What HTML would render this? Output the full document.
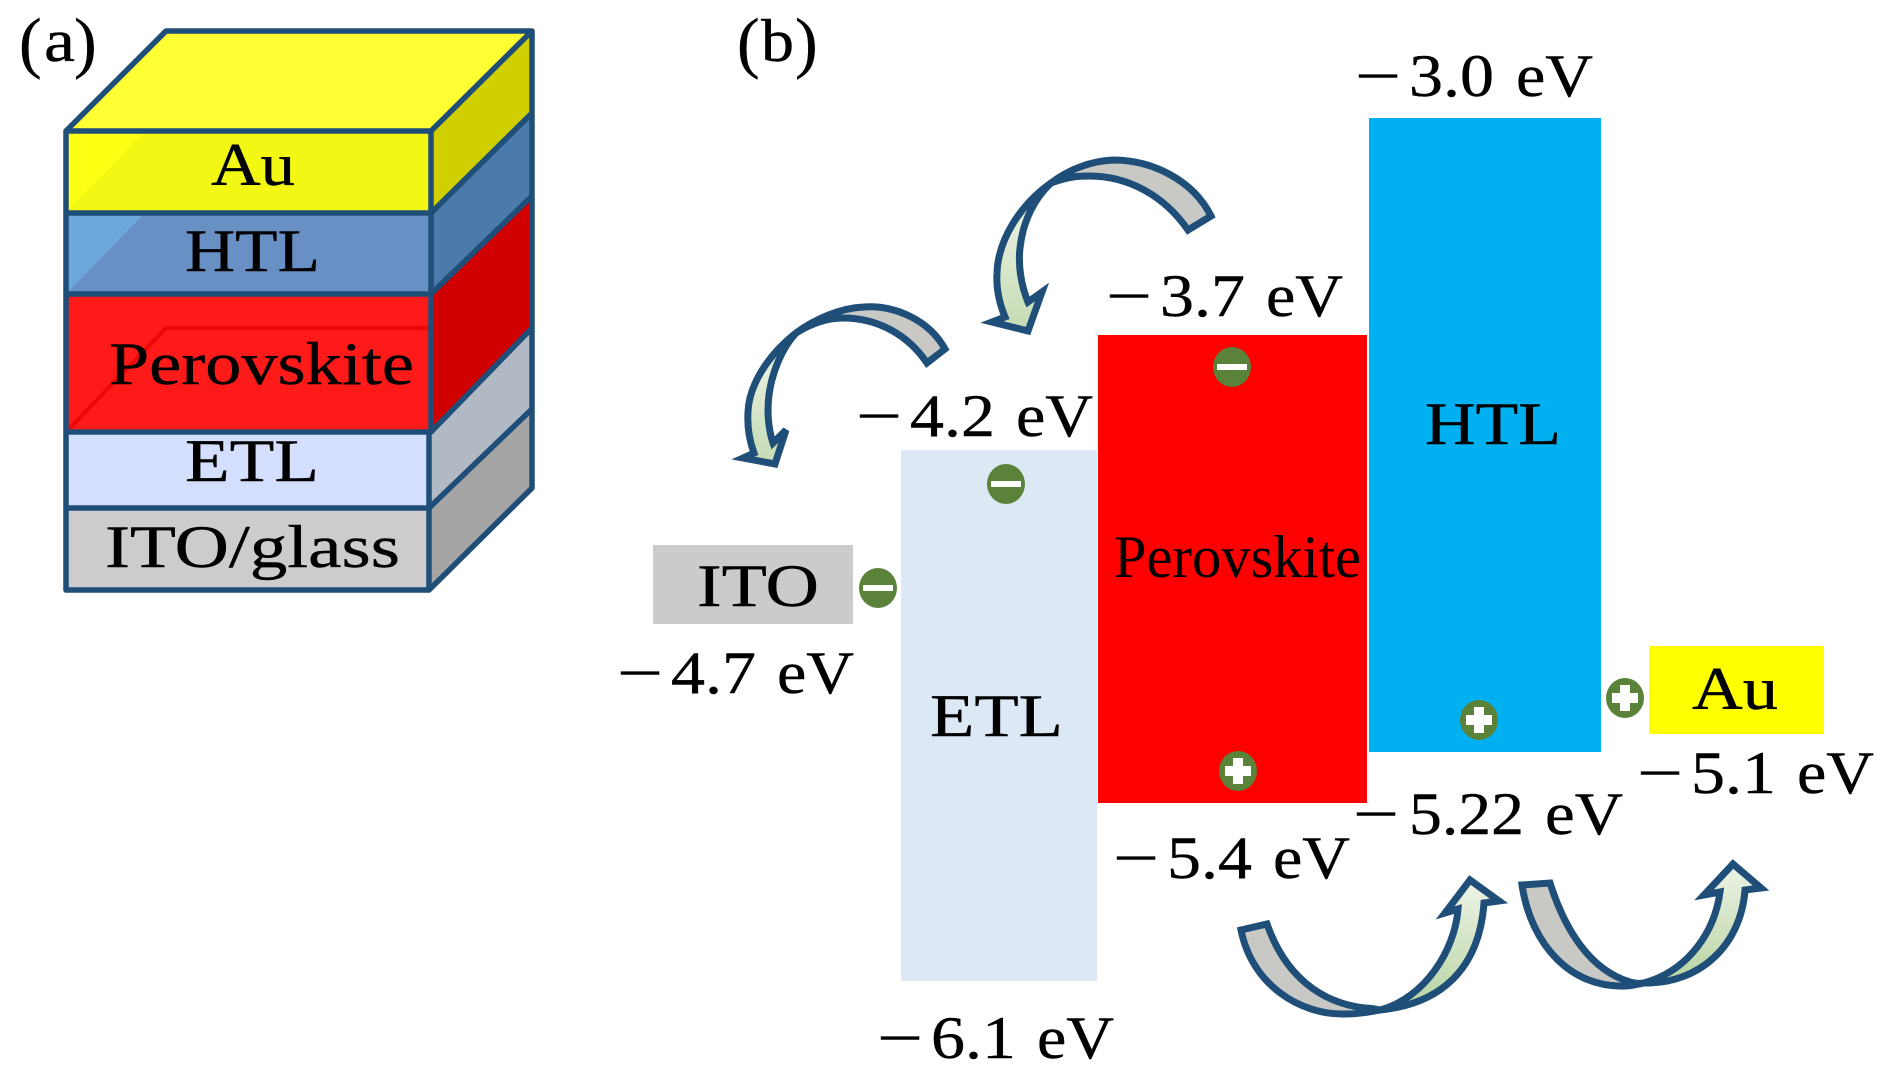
<!DOCTYPE html>
<html><head><meta charset="utf-8"><style>
html,body{margin:0;padding:0;background:#fff;width:1890px;height:1087px;overflow:hidden}
svg{display:block}
text{font-family:"Liberation Serif",serif;font-size:60px;fill:#000;stroke:#000;stroke-width:.4px}
.p{stroke:none}
.b{font-size:68px}
.a{stroke:#1f4e79;stroke-width:7;stroke-linejoin:miter}
.s{stroke:#1f4e79;stroke-width:5.5;stroke-linejoin:round;fill:none}
</style></head><body>
<svg width="1890" height="1087" viewBox="0 0 1890 1087" xmlns="http://www.w3.org/2000/svg">
<defs>
<linearGradient id="gd" x1="0" y1="0" x2="0" y2="1"><stop offset="0" stop-color="#eef3e8"/><stop offset="1" stop-color="#b6d4a0"/></linearGradient>
<linearGradient id="gu" x1="0" y1="0" x2="0" y2="1"><stop offset="0" stop-color="#a9cc92"/><stop offset=".25" stop-color="#e6efdd"/><stop offset="1" stop-color="#c5dbb3"/></linearGradient>
</defs>

<!-- (a) stack -->
<polygon points="66,131 166,31 532,31 431,131" fill="#ffff33"/>
<polygon points="431,131 532,31 532,113 431,213" fill="#d0d000"/>
<polygon points="431,213 532,113 532,196 431,294" fill="#4a7bab"/>
<polygon points="431,294 532,196 532,328 431,432" fill="#d00000"/>
<polygon points="431,432 532,328 532,409 429,508" fill="#b1b9c4"/>
<polygon points="429,508 532,409 532,488 429,590" fill="#a6a5a6"/>
<rect x="66" y="131" width="365" height="82" fill="#f2f813"/>
<polygon points="68,133 143,133 68,210" fill="#ffff14"/>
<rect x="66" y="213" width="365" height="81" fill="#6890c4"/>
<polygon points="68,215 143,215 68,292" fill="#6ca6da"/>
<rect x="66" y="294" width="365" height="138" fill="#ff1a1a"/>
<path d="M68,430 L166,328 L430,328" fill="none" stroke="#ec0808" stroke-width="4"/>
<rect x="66" y="432" width="363" height="76" fill="#d3dffc"/>
<rect x="66" y="508" width="363" height="82" fill="#cdcccd"/>
<g class="s">
<path d="M66,590 L66,131 L166,31 L532,31 L532,488 L429,590 Z"/>
<path d="M66,131 H431 L532,31"/>
<path d="M66,213 H431 L532,113"/>
<path d="M66,294 H431 L532,196"/>
<path d="M66,432 H431 L532,328"/>
<path d="M66,508 H429 L532,409"/>
<path d="M431,131 V432 M429,432 V590"/>
</g>
<text class="b" x="19" y="65">(</text><text x="44" y="61" textLength="31" lengthAdjust="spacingAndGlyphs">a</text><text class="b" x="74" y="65">)</text>
<text x="211" y="185" textLength="84" lengthAdjust="spacingAndGlyphs">Au</text>
<text x="185" y="271" textLength="135" lengthAdjust="spacingAndGlyphs">HTL</text>
<text x="109" y="384" textLength="305" lengthAdjust="spacingAndGlyphs">Perovskite</text>
<text x="185" y="481" textLength="134" lengthAdjust="spacingAndGlyphs">ETL</text>
<text x="105" y="567" textLength="295" lengthAdjust="spacingAndGlyphs">ITO/glass</text>

<!-- (b) bands -->
<text class="b" x="737" y="65">(</text><text x="761" y="61" textLength="33" lengthAdjust="spacingAndGlyphs">b</text><text class="b" x="795" y="65">)</text>
<rect x="653" y="545" width="200" height="79" fill="#cccbcc"/>
<rect x="901" y="450" width="196" height="531" fill="#dde8f5"/>
<rect x="1098" y="335" width="269" height="468" fill="#ff0000"/>
<rect x="1369" y="118" width="232" height="634" fill="#00b0f0"/>
<rect x="1649" y="646" width="175" height="88" fill="#ffff00"/>

<text x="697" y="606" textLength="122" lengthAdjust="spacingAndGlyphs">ITO</text>
<text x="930" y="736" textLength="133" lengthAdjust="spacingAndGlyphs">ETL</text>
<text class="p" x="1114" y="577" textLength="247" lengthAdjust="spacingAndGlyphs">Perovskite</text>
<text x="1425" y="444" textLength="136" lengthAdjust="spacingAndGlyphs">HTL</text>
<text x="1692" y="709" textLength="86" lengthAdjust="spacingAndGlyphs">Au</text>

<!-- energy labels -->
<g transform="translate(1358,96)"><text x="-3" textLength="46" lengthAdjust="spacingAndGlyphs">−</text><text x="51" textLength="85" lengthAdjust="spacingAndGlyphs">3.0</text><text x="158" textLength="77" lengthAdjust="spacingAndGlyphs">eV</text></g>
<g transform="translate(1109,316)"><text x="-3" textLength="46" lengthAdjust="spacingAndGlyphs">−</text><text x="51" textLength="85" lengthAdjust="spacingAndGlyphs">3.7</text><text x="157" textLength="77" lengthAdjust="spacingAndGlyphs">eV</text></g>
<g transform="translate(859,436)"><text x="-3" textLength="46" lengthAdjust="spacingAndGlyphs">−</text><text x="51" textLength="85" lengthAdjust="spacingAndGlyphs">4.2</text><text x="157" textLength="77" lengthAdjust="spacingAndGlyphs">eV</text></g>
<g transform="translate(620,693)"><text x="-3" textLength="46" lengthAdjust="spacingAndGlyphs">−</text><text x="51" textLength="85" lengthAdjust="spacingAndGlyphs">4.7</text><text x="157" textLength="77" lengthAdjust="spacingAndGlyphs">eV</text></g>
<g transform="translate(880,1058)"><text x="-3" textLength="46" lengthAdjust="spacingAndGlyphs">−</text><text x="51" textLength="85" lengthAdjust="spacingAndGlyphs">6.1</text><text x="157" textLength="77" lengthAdjust="spacingAndGlyphs">eV</text></g>
<g transform="translate(1116,878)"><text x="-3" textLength="46" lengthAdjust="spacingAndGlyphs">−</text><text x="51" textLength="85" lengthAdjust="spacingAndGlyphs">5.4</text><text x="157" textLength="77" lengthAdjust="spacingAndGlyphs">eV</text></g>
<g transform="translate(1356,834)"><text x="-3" textLength="46" lengthAdjust="spacingAndGlyphs">−</text><text x="53" textLength="115" lengthAdjust="spacingAndGlyphs">5.22</text><text x="189" textLength="78" lengthAdjust="spacingAndGlyphs">eV</text></g>
<g transform="translate(1640,793)"><text x="-3" textLength="46" lengthAdjust="spacingAndGlyphs">−</text><text x="51" textLength="85" lengthAdjust="spacingAndGlyphs">5.1</text><text x="157" textLength="77" lengthAdjust="spacingAndGlyphs">eV</text></g>

<!-- charges -->
<g fill="#5a8239">
<ellipse cx="1232" cy="367" rx="19" ry="20"/>
<ellipse cx="1006" cy="484" rx="19" ry="20"/>
<ellipse cx="878" cy="588" rx="19" ry="20"/>
<ellipse cx="1238" cy="771" rx="19" ry="20"/>
<ellipse cx="1479" cy="720" rx="19" ry="20"/>
<ellipse cx="1625" cy="698" rx="19" ry="20"/>
</g>
<g fill="#fff">
<rect x="1217" y="364" width="30" height="6"/>
<rect x="991" y="481" width="30" height="6"/>
<rect x="863" y="585" width="30" height="6"/>
<path d="M1233,758h10v8h8v10h-8v8h-10v-8h-8v-10h8z"/>
<path d="M1474,707h10v8h8v10h-8v8h-10v-8h-8v-10h8z"/>
<path d="M1620,685h10v8h8v10h-8v8h-10v-8h-8v-10h8z"/>
</g>

<!-- arrows -->
<g class="a">
<path fill="#c8c9c5" d="M1211,216 C1193,180 1152,160 1113,160 C1090,161 1068,170 1051,183 C1070,176 1080,176 1089,176 C1130,176 1165,197 1188,230 Z"/>
<path fill="url(#gu)" d="M1051,183 C1020,205 998,240 997,273 C996,290 1000,305 1005,317 L992,322 L1028,331 L1042,292 L1028,302 C1021,285 1018,265 1020,248 C1023,220 1035,198 1051,183 Z"/>
<path fill="#c8c9c5" d="M945,349 C929,320 895,305 864,307 C840,308 815,319 796,333 C812,323 828,318 843,318 C878,318 908,335 927,363 Z"/>
<path fill="url(#gu)" d="M796,333 C768,355 749,385 748,412 C747,428 750,442 754,453 L743,458 L775,464 L786,430 L773,443 C768,428 767,410 769,395 C772,372 782,348 796,333 Z"/>
<path fill="#c8c9c5" d="M1241,930 C1252,985 1300,1015 1345,1014 C1358,1014 1370,1012 1380,1010 C1375,1009 1370,1008 1365,1008 C1320,1003 1285,975 1267,924 Z"/>
<path fill="url(#gd)" d="M1380,1010 C1440,1004 1479,970 1484,903 L1499,901 L1470,880 L1445,913 L1458,909 C1455,950 1425,998 1380,1010 Z"/>
<path fill="#c8c9c5" d="M1522,885 C1531,945 1571,988 1625,986 C1632,986 1638,984 1644,983 C1638,984 1634,983 1630,982 C1590,970 1565,930 1550,883 Z"/>
<path fill="url(#gd)" d="M1644,983 C1700,984 1741,945 1745,890 L1761,888 L1733,864 L1704,895 L1720,892 C1715,930 1690,970 1644,983 Z"/>
</g>
</svg>
</body></html>
